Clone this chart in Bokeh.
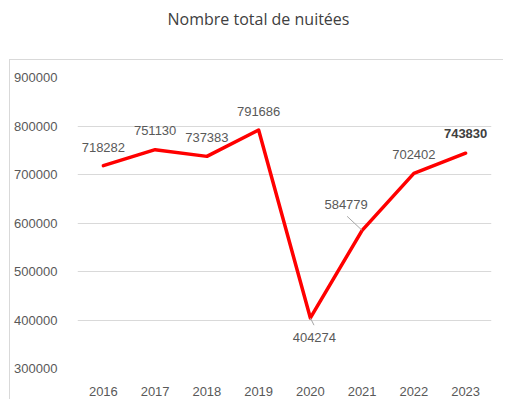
from bokeh.plotting import figure
from bokeh.models import ColumnDataSource, LabelSet, FixedTicker, NumeralTickFormatter, Range1d
from bokeh.layouts import column
from bokeh.embed import file_html
from bokeh.resources import INLINE
from bokeh.core.properties import value

title_text = "Nombre total de nuitées"
years = [2016, 2017, 2018, 2019, 2020, 2021, 2022, 2023]
nuitees = [718282, 751130, 737383, 791686, 404274, 584779, 702402, 743830]
y_ticks = [300000, 400000, 500000, 600000, 700000, 800000, 900000]

# label placement (pixel offsets, style only)
lab_dx = [0, 0, 0, 0, 4, -16, 0, 0]
lab_dy = [18, 19, 19, 19, -20, 26, 19, 20]

FONT = "Liberation Sans"
GRAY = "#595959"

# ---------- title strip ----------
tp = figure(width=504, height=59, toolbar_location=None, output_backend="svg",
            min_border_top=5, min_border_left=0, min_border_right=0, min_border_bottom=0,
            outline_line_color=None, x_range=Range1d(0, 1), y_range=Range1d(0, 1))
tp.title.text = title_text
tp.title.align = "left"
tp.title.offset = 100
tp.title.text_font = "Open Sans"
tp.title.text_font_size = "16px"
tp.title.text_font_style = "normal"
tp.title.text_color = "#404040"
tp.axis.visible = False
tp.grid.visible = False

# ---------- main chart ----------
p = figure(width=494, height=340, toolbar_location=None, output_backend="svg",
           x_range=Range1d(2015.5, 2023.5), y_range=Range1d(300000, 900000),
           min_border_left=67, min_border_right=13, min_border_top=17, min_border_bottom=32,
           outline_line_color=None,
           styles={"margin-left": "9px",
                   "border-top": "1px solid #d9d9d9", "border-left": "1px solid #d9d9d9"})

p.xgrid.visible = False
p.ygrid.grid_line_color = "#d9d9d9"
p.ygrid.grid_line_width = 1
p.yaxis.ticker = FixedTicker(ticks=y_ticks)
p.yaxis.formatter = NumeralTickFormatter(format="0")
p.xaxis.ticker = FixedTicker(ticks=years)
for ax in (p.xaxis, p.yaxis):
    ax.axis_line_color = None
    ax.major_tick_line_color = None
    ax.minor_tick_line_color = None
    ax.major_label_text_font = FONT
    ax.major_label_text_font_size = "13px"
    ax.major_label_text_color = GRAY
p.xaxis.major_label_standoff = 12
p.yaxis.major_label_standoff = 14

p.line(years, nuitees, line_color="#ff0000", line_width=3.5, line_join="round", line_cap="round")

# leader lines
p.segment(x0=[years[5]], y0=[nuitees[5]], x1=[years[5] - 0.29], y1=[nuitees[5] + 29000],
          line_color="#a6a6a6", line_width=1)
p.segment(x0=[years[4]], y0=[nuitees[4]], x1=[years[4] + 0.07], y1=[nuitees[4] - 15000],
          line_color="#a6a6a6", line_width=1)

src = ColumnDataSource(dict(x=years[:-1], y=nuitees[:-1], t=[str(v) for v in nuitees[:-1]],
                            dx=lab_dx[:-1], dy=lab_dy[:-1]))
p.add_layout(LabelSet(x="x", y="y", text="t", source=src, x_offset="dx", y_offset="dy",
                      text_align="center", text_baseline="middle",
                      text_font=value(FONT), text_font_size="13px", text_color=GRAY))
src2 = ColumnDataSource(dict(x=years[-1:], y=nuitees[-1:], t=[str(v) for v in nuitees[-1:]],
                             dx=lab_dx[-1:], dy=lab_dy[-1:]))
p.add_layout(LabelSet(x="x", y="y", text="t", source=src2, x_offset="dx", y_offset="dy",
                      text_align="center", text_baseline="middle",
                      text_font=value(FONT), text_font_size="13px", text_font_style="bold",
                      text_color="#404040"))

layout = column(tp, p, spacing=0)
open("out.html", "w").write(file_html(layout, INLINE))
